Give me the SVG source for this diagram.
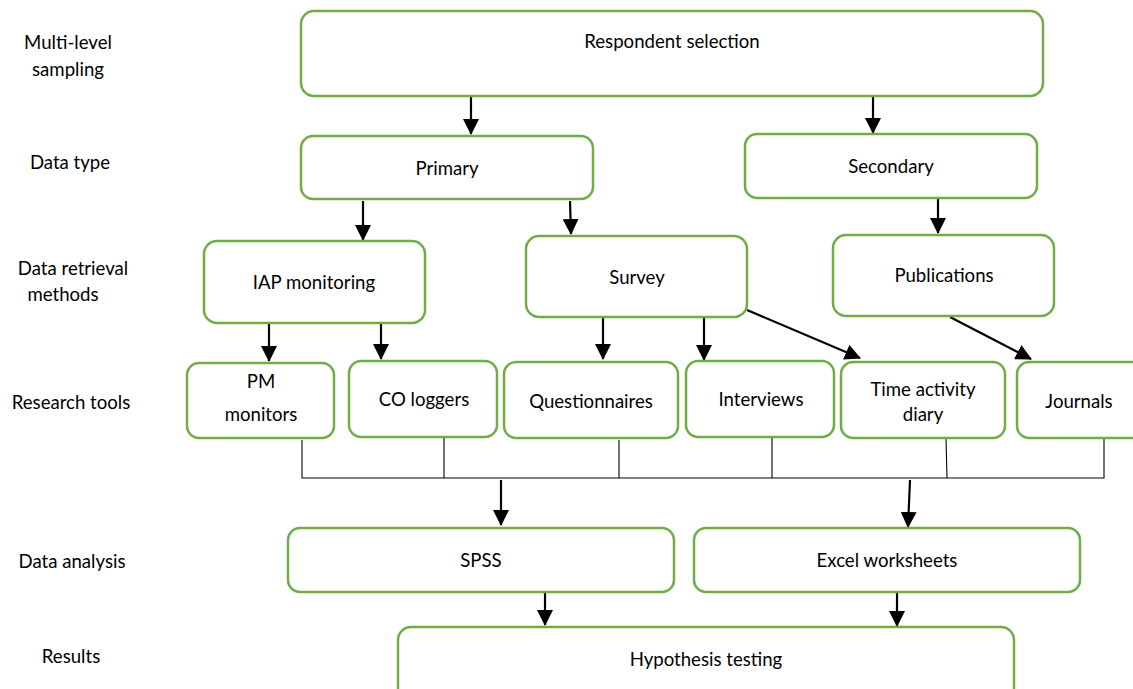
<svg xmlns="http://www.w3.org/2000/svg" width="1133" height="689" viewBox="0 0 1133 689">
<style>
.box{fill:#fff;stroke:#70AD47;stroke-width:2.5}
.t{font-family:Lato,"Liberation Sans",sans-serif;font-size:18.6px;fill:#000;text-anchor:middle}
.arr{stroke:#000;stroke-width:2.2;fill:none;marker-end:url(#ah)}
.br{stroke:#000;stroke-width:1.1;fill:none}
</style>
<defs>
<marker id="ah" markerUnits="userSpaceOnUse" markerWidth="16" markerHeight="16" viewBox="0 0 16 16" refX="15" refY="8" orient="auto">
<path d="M0,0 L16,8 L0,16 z" fill="#000"/>
</marker>
</defs>
<rect width="1133" height="689" fill="#fff"/>
<g id="labels">
<text class="t" x="68" y="49">Multi-level</text>
<text class="t" x="68" y="76">sampling</text>
<text class="t" x="70" y="169">Data type</text>
<text class="t" x="73" y="275">Data retrieval</text>
<text class="t" x="63" y="301">methods</text>
<text class="t" x="71" y="409">Research tools</text>
<text class="t" x="72" y="568">Data analysis</text>
<text class="t" x="71" y="663">Results</text>
</g>
<g id="connectors">
<line class="arr" x1="471" y1="96" x2="471" y2="134"/>
<line class="arr" x1="873" y1="96" x2="873" y2="133"/>
<line class="arr" x1="363" y1="201" x2="363" y2="240"/>
<line class="arr" x1="570" y1="201" x2="571" y2="234"/>
<line class="arr" x1="938" y1="198" x2="938" y2="233"/>
<line class="arr" x1="269" y1="323" x2="269" y2="361"/>
<line class="arr" x1="381" y1="324" x2="381" y2="359"/>
<line class="arr" x1="603" y1="318" x2="603" y2="359"/>
<line class="arr" x1="704" y1="318" x2="704" y2="360"/>
<line class="arr" x1="747" y1="310" x2="860" y2="358"/>
<line class="arr" x1="950" y1="317" x2="1031" y2="359"/>
<line class="arr" x1="501" y1="480" x2="501" y2="525"/>
<line class="arr" x1="910" y1="480" x2="908" y2="527"/>
<line class="arr" x1="545" y1="592" x2="545" y2="625"/>
<line class="arr" x1="897" y1="592" x2="897" y2="626"/>
<path class="br" d="M302,440 V478 H1104 V438 M444,438 V478 M619,440 V478 M772,438 V478 M946,438 L947,478"/>
</g>
<g id="respondent"><rect class="box" x="301" y="11" width="742" height="85" rx="13"/><text class="t" x="672" y="48">Respondent selection</text></g>
<g id="primary"><rect class="box" x="301" y="136" width="292" height="63" rx="12"/><text class="t" x="447" y="175">Primary</text></g>
<g id="secondary"><rect class="box" x="745" y="134" width="292" height="64" rx="12"/><text class="t" x="891" y="173">Secondary</text></g>
<g id="iap"><rect class="box" x="204" y="241" width="221" height="82" rx="13"/><text class="t" x="314" y="289">IAP monitoring</text></g>
<g id="survey"><rect class="box" x="526" y="236" width="221" height="81" rx="13"/><text class="t" x="637" y="284">Survey</text></g>
<g id="publications"><rect class="box" x="833" y="235" width="221" height="81" rx="13"/><text class="t" x="944" y="282">Publications</text></g>
<g id="pm"><rect class="box" x="187" y="363" width="147" height="75" rx="12"/><text class="t" x="261" y="388">PM</text><text class="t" x="261" y="421">monitors</text></g>
<g id="co"><rect class="box" x="349" y="361" width="148" height="76" rx="12"/><text class="t" x="424" y="406">CO loggers</text></g>
<g id="questionnaires"><rect class="box" x="504" y="362" width="174" height="76" rx="12"/><text class="t" x="591" y="408">Questionnaires</text></g>
<g id="interviews"><rect class="box" x="686" y="361" width="148" height="76" rx="12"/><text class="t" x="761" y="406">Interviews</text></g>
<g id="tad"><rect class="box" x="841" y="362" width="164" height="76" rx="12"/><text class="t" x="923" y="396">Time activity</text><text class="t" x="923" y="421">diary</text></g>
<g id="journals"><rect class="box" x="1017" y="362" width="130" height="76" rx="12"/><text class="t" x="1079" y="408">Journals</text></g>
<g id="spss"><rect class="box" x="288" y="528" width="386" height="64" rx="12"/><text class="t" x="481" y="567">SPSS</text></g>
<g id="excel"><rect class="box" x="694" y="528" width="386" height="64" rx="12"/><text class="t" x="887" y="567">Excel worksheets</text></g>
<g id="hypothesis"><rect class="box" x="398" y="627" width="616" height="75" rx="13"/><text class="t" x="706" y="666">Hypothesis testing</text></g>
</svg>
